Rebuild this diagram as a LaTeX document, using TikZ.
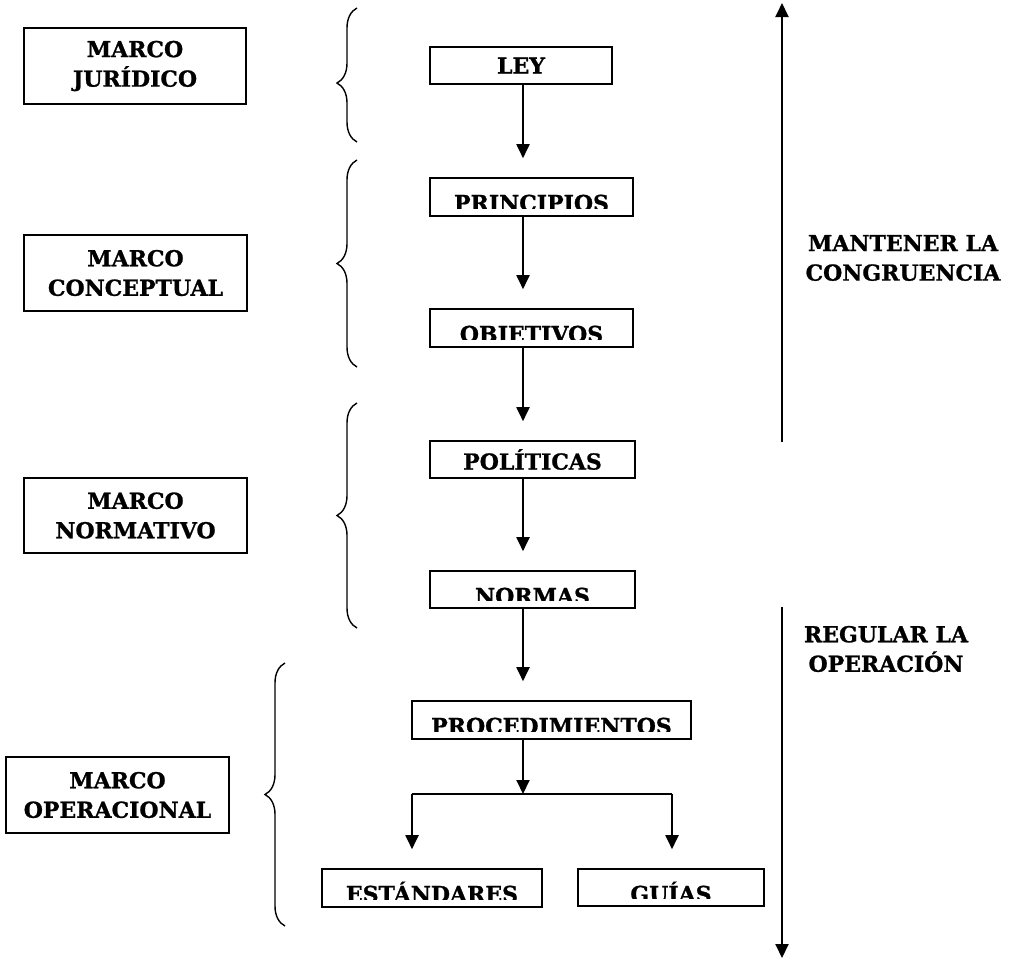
\documentclass[tikz,border=0pt]{standalone}
\usepackage{fontspec}
\setmainfont{DejaVu Serif}[BoldFeatures={FakeBold=1}]
\usetikzlibrary{arrows.meta,decorations.pathreplacing}

\newcommand\bkfont{\fontsize{22}{29.5}\selectfont\bfseries}

\begin{document}
\begin{tikzpicture}[x=1pt,y=-1pt,
  every node/.style={font=\bkfont, inner sep=0pt},
  frame/.style={draw, line width=1.6pt, align=center},
  % text whose lower part is cut off by the box
  cut/.style={path picture={
      \clip ([yshift=8pt]path picture bounding box.south west)
            rectangle (path picture bounding box.north east);
      \node[anchor=base] at ([yshift=-33pt]path picture bounding box.north) {#1};}},
  arr/.style={line width=1.9pt, -{Triangle[width=13pt,length=14pt]}},
  gap/.style={shorten >=19pt},
  curly/.style={line width=1.4pt, decorate,
      decoration={brace, amplitude=20pt, aspect=#1}},
  curly/.default=0.5
]
\useasboundingbox (0,0) rectangle (1009,959);

% left-hand frames
\node[frame, minimum width=222pt, minimum height=76pt] (jur)  at (135,66)    {MARCO\\JURÍDICO};
\node[frame, minimum width=223pt, minimum height=76pt] (conc) at (135.5,273) {MARCO\\CONCEPTUAL};
\node[frame, minimum width=223pt, minimum height=75pt] (nrmv) at (135.5,515.5) {MARCO\\NORMATIVO};
\node[frame, minimum width=223pt, minimum height=76pt] (oper) at (117.5,795) {MARCO\\OPERACIONAL};

% braces
\draw[curly=0.44] (357,142) -- (357,8);
\draw[curly] (357,367) -- (357,160);
\draw[curly] (357,628) -- (357,403);
\draw[curly] (285,926) -- (285,663);

% chain of boxes
\node[frame, minimum width=182pt, minimum height=37pt] (ley)  at (521,65.5) {LEY};
\node[frame, minimum width=203pt, minimum height=38pt, cut={PRINCIPIOS}] (prin) at (531.5,197) {};
\node[frame, minimum width=203pt, minimum height=38pt, cut={OBJETIVOS}]  (obj)  at (531.5,328) {};
\node[frame, minimum width=205pt, minimum height=37pt] (pol)  at (532.5,459.5) {POLÍTICAS};
\node[frame, minimum width=205pt, minimum height=37pt, cut={NORMAS}] (norm) at (532.5,589.5) {};
\node[frame, minimum width=279pt, minimum height=38pt, cut={PROCEDIMIENTOS}] (proc) at (551.5,720) {};
\node[frame, minimum width=220pt, minimum height=38pt, cut={ESTÁNDARES}] (est) at (432,888) {};
\node[frame, minimum width=186pt, minimum height=37pt, cut={GUÍAS}] (gui) at (671,887.5) {};

% vertical flow
\coordinate (spine) at (523,0);
\draw[arr, gap] (ley.south -| spine)  -- (prin.north -| spine);
\draw[arr, gap] (prin.south -| spine) -- (obj.north -| spine);
\draw[arr, gap] (obj.south -| spine)  -- (pol.north -| spine);
\draw[arr, gap] (pol.south -| spine)  -- (norm.north -| spine);
\draw[arr, gap] (norm.south -| spine) -- (proc.north -| spine);

% split below PROCEDIMIENTOS
\coordinate (split) at (523,794);
\coordinate (lbr) at (412,794);
\coordinate (rbr) at (672,794);
\draw[arr] (proc.south -| split) -- (split);
\draw[line width=1.9pt] (lbr) -- (rbr);
\draw[arr, gap] (lbr) -- (lbr |- est.north);
\draw[arr, gap] (rbr) -- (rbr |- gui.north);

% right-hand arrows and captions
\coordinate (upbot) at (782,442);
\coordinate (uptop) at (782,3);
\coordinate (dntop) at (782,607);
\coordinate (dnbot) at (782,958);
\draw[arr] (upbot) -- (uptop);
\draw[arr] (dntop) -- (dnbot);
\node[align=center] (keep) at (903,258) {MANTENER LA\\CONGRUENCIA};
\node[align=center] (reg)  at (886,649) {REGULAR LA\\OPERACIÓN};
\end{tikzpicture}
\end{document}
